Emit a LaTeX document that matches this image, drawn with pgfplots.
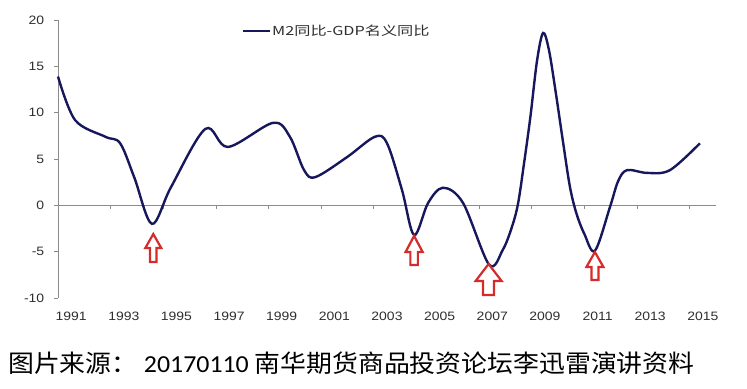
\documentclass[border=0pt]{standalone}
\usepackage{pgfplots}
\pgfplotsset{compat=1.18}
\usepackage{fontspec}
\usepackage{graphicx}
\setmainfont{Liberation Sans}
\newfontfamily\cjk{Noto Sans CJK SC}
\newfontfamily\calibri{Carlito}
\definecolor{navy}{HTML}{17175C}
\definecolor{axisgray}{HTML}{8C8C8C}
\definecolor{labelgray}{HTML}{2E2E2E}
\definecolor{arrowred}{HTML}{D42B2B}
% x, y(tip), head width, head length, total length, shaft width
\newcommand\uparr[6]{%
\draw[arrowred, line width=2.2bp, fill=white, line join=miter]
 (axis cs:#1,#2) -- ++(0.5*#3bp,-#4bp) -- ++(-0.5*#3bp+0.5*#6bp,0bp)
 -- ++(0bp,-#5bp+#4bp) -- ++(-#6bp,0bp) -- ++(0bp,#5bp-#4bp)
 -- ++(-0.5*#3bp+0.5*#6bp,0bp) -- cycle;}
\begin{document}
\begin{tikzpicture}
\path[use as bounding box] (0,0) rectangle (747bp,389bp);
\begin{axis}[
  at={(58bp,91bp)}, anchor=south west,
  scale only axis, width=658bp, height=278bp,
  xmin=1990.5, xmax=2015.5, ymin=-10, ymax=20,
  clip=false,
  axis y line*=left, axis x line*=bottom,
  x axis line style={draw=none},
  y axis line style={draw=axisgray, line width=0.8bp},
  ytick={-10,-5,0,5,10,15,20},
  yticklabels={-10,-5,0,5,10,15,20},
  xtick={1991,1993,1995,1997,1999,2001,2003,2005,2007,2009,2011,2013,2015},
  xticklabels={1991,1993,1995,1997,1999,2001,2003,2005,2007,2009,2011,2013,2015},
  x tick style={draw=none},
  y tick style={draw=axisgray, line width=0.8bp},
  tick align=outside, major tick length=4bp,
  tick label style={font=\fontsize{12.2}{14}\selectfont, text=labelgray, xscale=1.15},
  yticklabel style={xshift=-5bp},
  xticklabel style={yshift=-6bp},
  legend style={at={(0.279,0.960)}, anchor=west, draw=none, fill=none,
    font=\cjk\fontsize{12.5}{14}\selectfont, text=labelgray,
    inner xsep=0bp, inner ysep=0bp, nodes={inner sep=1bp}},
  legend image code/.code={\draw[#1] (0bp,0bp) -- (27bp,0bp);},
]
\draw[axisgray, line width=0.8bp] (axis cs:1990.5,0) -- (axis cs:2015.5,0);
\pgfplotsinvokeforeach{1992.5,1994.5,1996.5,1998.5,2000.5,2002.5,2004.5,2006.5,2008.5,2010.5,2012.5,2014.5}{
  \draw[axisgray, line width=0.8bp] (axis cs:#1,0) -- ++(0bp,-4bp);
}
\addplot[navy, line width=2.4bp, smooth, tension=0.55] coordinates {
 (1990.5,13.9) (1991.15,9.2) (1992.3,7.4) (1992.86,6.7) (1993.4,3.0)
 (1994.07,-2.0) (1994.8,2.0) (1996.1,8.25) (1996.96,6.3) (1998.67,8.9)
 (1999.31,7.4) (1999.85,3.8) (2000.28,3.05) (2001.48,5.2) (2002.54,7.4)
 (2003.0,6.7) (2003.57,1.65) (2004.03,-3.2) (2004.56,0.25) (2005.13,1.9)
 (2005.89,0.25) (2006.88,-6.4) (2007.4,-4.8) (2007.75,-2.3) (2007.98,0.2)
 (2008.2,4.4) (2008.45,9.6) (2008.7,15.6) (2008.93,18.6) (2009.15,16.8)
 (2009.4,12.4) (2009.69,6.8) (2009.95,2.0) (2010.2,-0.9) (2010.5,-3.1)
 (2010.9,-4.9) (2011.47,-0.2) (2011.78,2.6) (2012.12,3.8) (2012.88,3.5)
 (2013.75,3.8) (2014.89,6.7)
};
\addlegendentry{\scalebox{1.3}[1]{M2同比-GDP名义同比}}
\uparr{1994.12}{-3.1}{16}{14}{28}{6.5}
\uparr{2004.03}{-3.3}{17}{16}{29}{7.5}
\uparr{2006.86}{-6.33}{26}{17}{31}{11}
\uparr{2010.9}{-5.04}{17}{15}{28}{7}
\end{axis}
\node[anchor=west, inner sep=0pt, text=black] at (8bp,26bp)
  {\scalebox{1.06}[1]{\fontsize{24.5}{28}\selectfont\cjk 图片来源：\hspace{6bp}\calibri 20170110 \cjk 南华期货商品投资论坛李迅雷演讲资料}};
\end{tikzpicture}
\end{document}
